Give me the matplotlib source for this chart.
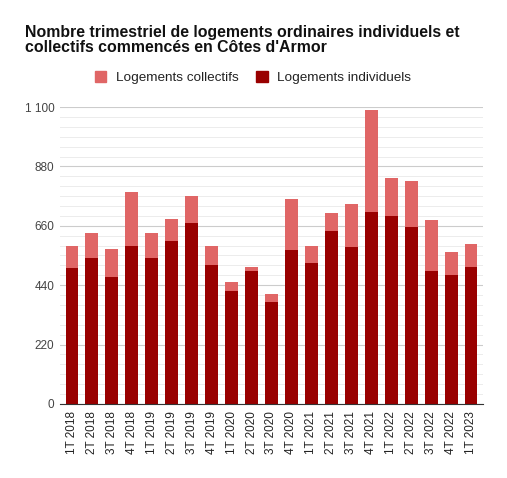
import matplotlib
matplotlib.use("Agg")
import matplotlib.pyplot as plt
import numpy as np
from matplotlib.patches import Patch

plt.rcParams['font.family'] = ['Liberation Sans', 'DejaVu Sans']

trimestres = ["1T 2018", "2T 2018", "3T 2018", "4T 2018",
              "1T 2019", "2T 2019", "3T 2019", "4T 2019",
              "1T 2020", "2T 2020", "3T 2020", "4T 2020",
              "1T 2021", "2T 2021", "3T 2021", "4T 2021",
              "1T 2022", "2T 2022", "3T 2022", "4T 2022",
              "1T 2023"]
individuels = [505, 539, 472, 586, 539, 602, 669, 515, 419, 494, 379,
               571, 524, 639, 580, 712, 698, 656, 491, 476, 509]
collectifs = [81, 95, 103, 200, 95, 84, 102, 71, 33, 14, 29,
              189, 62, 69, 162, 378, 140, 171, 191, 88, 84]

col_ind = "#990000"
col_coll = "#e06666"

fig = plt.figure(figsize=(5.07, 4.78), dpi=100)
ax = fig.add_axes([0.118, 0.155, 0.835, 0.621])

x = np.arange(len(trimestres))
ax.bar(x, individuels, width=0.63, color=col_ind, zorder=3)
ax.bar(x, collectifs, width=0.63, bottom=individuels, color=col_coll, zorder=3)

ax.set_xlim(-0.6, len(trimestres) - 0.4)
ax.set_ylim(0, 1100)
ax.set_yticks(np.arange(0, 1101, 220))
ax.set_yticklabels(["0", "220", "440", "660", "880", "1 100"])
ax.set_yticks(np.arange(0, 1101, 220 / 6), minor=True)
ax.grid(axis='y', which='major', color='#cccccc', linewidth=0.8, zorder=0)
ax.grid(axis='y', which='minor', color='#ececec', linewidth=0.7, zorder=0)
ax.tick_params(axis='y', which='both', length=0, labelsize=8.5, labelcolor='#444444', pad=4)
ax.set_xticks(x)
ax.set_xticklabels(trimestres, rotation=90, fontsize=8.5, color='#222222')
ax.tick_params(axis='x', length=0, pad=5)
for s in ['top', 'right', 'left']:
    ax.spines[s].set_visible(False)
ax.spines['bottom'].set_color('#333333')
ax.spines['bottom'].set_zorder(4)

fig.text(0.049, 0.917, "Nombre trimestriel de logements ordinaires individuels et\ncollectifs commencés en Côtes d'Armor",
         fontsize=11.4, fontweight='bold', color='#111111', va='center', ha='left', linespacing=1.0)

handles = [Patch(color=col_coll, label="Logements collectifs"),
           Patch(color=col_ind, label="Logements individuels")]
fig.legend(handles=handles, loc='center', bbox_to_anchor=(0.499, 0.837), ncol=2, frameon=False,
           fontsize=9.7, handlelength=0.85, handleheight=0.85, handletextpad=0.7, columnspacing=1.3,
           labelcolor='#222222')

fig.savefig("out.png", dpi=100, facecolor='white')
